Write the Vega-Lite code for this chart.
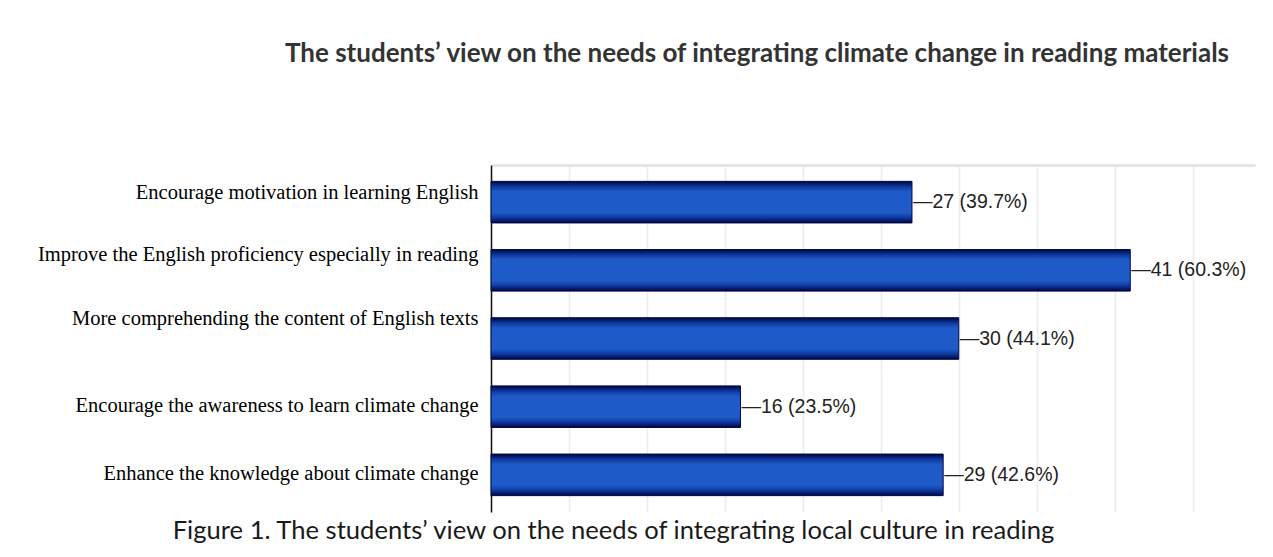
{
  "$schema": "https://vega.github.io/schema/vega-lite/v6.json",
  "width": 764,
  "height": 347,
  "autosize": {"type": "none"},
  "padding": {"left": 491, "top": 165, "right": 18, "bottom": 45},
  "background": "white",
  "config": {"view": {"stroke": null}},
  "title": {
    "text": "The students’ view on the needs of integrating climate change in reading materials",
    "font": "Lato",
    "fontSize": 26,
    "fontWeight": "bold",
    "color": "#333333",
    "anchor": "middle",
    "dx": -116,
    "offset": 98
  },
  "data": {
    "values": [
      {"item": "Encourage motivation in learning English", "count": 27, "pct": "39.7"},
      {"item": "Improve the English proficiency especially in reading", "count": 41, "pct": "60.3"},
      {"item": "More comprehending the content of English texts", "count": 30, "pct": "44.1"},
      {"item": "Encourage the awareness to learn climate change", "count": 16, "pct": "23.5"},
      {"item": "Enhance the knowledge about climate change", "count": 29, "pct": "42.6"}
    ]
  },
  "transform": [
    {"calculate": "'—' + datum.count + ' (' + datum.pct + '%)'", "as": "label"}
  ],
  "encoding": {
    "y": {
      "field": "item",
      "type": "nominal",
      "sort": null,
      "scale": {"paddingInner": 0.39, "paddingOuter": 0.24},
      "axis": {
        "title": null,
        "orient": "left",
        "domain": true,
        "domainColor": "#111111",
        "domainWidth": 1.5,
        "ticks": false,
        "grid": false,
        "labelPadding": 13,
        "labelFont": "Liberation Serif",
        "labelFontSize": 20.5,
        "labelColor": "#000000",
        "labelLimit": 0,
        "labelOffset": {
          "condition": [
            {"test": "datum.value === 'Encourage motivation in learning English'", "value": -9},
            {"test": "datum.value === 'Improve the English proficiency especially in reading'", "value": -15},
            {"test": "datum.value === 'More comprehending the content of English texts'", "value": -20}
          ],
          "value": -1
        }
      }
    },
    "x": {
      "field": "count",
      "type": "quantitative",
      "scale": {"domain": [0, 49], "nice": false},
      "axis": {
        "orient": "top",
        "values": [0, 5, 10, 15, 20, 25, 30, 35, 40, 45],
        "labels": false,
        "ticks": false,
        "domain": true,
        "domainColor": "#e6e6e6",
        "domainWidth": 3,
        "grid": true,
        "gridColor": "#ececec",
        "gridWidth": 1.5,
        "title": "Figure 1. The students’ view on the needs of integrating local culture in reading",
        "titleFont": "Lato",
        "titleFontSize": 25.6,
        "titleFontWeight": "normal",
        "titleColor": "#1a1a1a",
        "titleX": 122,
        "titleY": 365,
        "titleAlign": "center",
        "titleBaseline": "middle"
      }
    }
  },
  "layer": [
    {
      "mark": {
        "type": "bar",
        "stroke": "#000a4a",
        "strokeWidth": 1,
        "color": {
          "gradient": "linear",
          "x1": 0, "y1": 0, "x2": 0, "y2": 1,
          "stops": [
            {"offset": 0, "color": "#000640"},
            {"offset": 0.13, "color": "#0f38a0"},
            {"offset": 0.25, "color": "#1f5bc8"},
            {"offset": 0.75, "color": "#1f5bc8"},
            {"offset": 0.87, "color": "#0f38a0"},
            {"offset": 1, "color": "#000640"}
          ]
        }
      }
    },
    {
      "mark": {
        "type": "text",
        "align": "left",
        "baseline": "middle",
        "dx": 1,
        "font": "Liberation Sans",
        "fontSize": 19.5,
        "color": "#222222"
      },
      "encoding": {"text": {"field": "label"}}
    }
  ]
}
